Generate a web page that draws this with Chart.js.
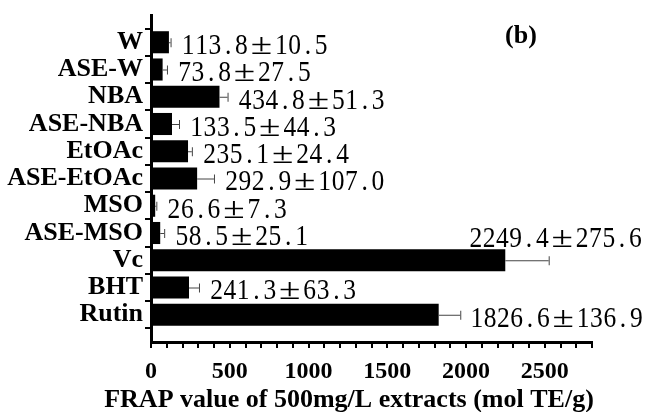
<!DOCTYPE html>
<html>
<head>
<meta charset="utf-8">
<script src="https://cdn.jsdelivr.net/npm/chart.js@4.4.1/dist/chart.umd.min.js"></script>
<style>
  body { margin: 0; background: #fff; }
</style>
</head>
<body>
<canvas id="frap-chart" width="645" height="412"></canvas>
<script>
// FRAP values of the extracts, mean and SD
const categories = ['W', 'ASE-W', 'NBA', 'ASE-NBA', 'EtOAc', 'ASE-EtOAc', 'MSO', 'ASE-MSO', 'Vc', 'BHT', 'Rutin'];
const frapMeans = [113.8, 73.8, 434.8, 133.5, 235.1, 292.9, 26.6, 58.5, 2249.4, 241.3, 1826.6];
const frapSd = [10.5, 27.5, 51.3, 44.3, 24.4, 107.0, 7.3, 25.1, 275.6, 63.3, 136.9];
const xTickLabels = [0, 500, 1000, 1500, 2000, 2500];
const xMax = 2800;
const xTitle = 'FRAP value of 500mg/L extracts (mol TE/g)';

const serif = "'Liberation Serif', 'Times New Roman', serif";

// one empty slot above and below so the axis runs past the bars
const labels = [''].concat(categories, ['']);
const values = [null].concat(frapMeans, [null]);
const errors = [null].concat(frapSd, [null]);

// draws text in fixed cells, like a CJK mono font (± takes two cells)
function drawMono(ctx, text, x, y, cell) {
  ctx.textAlign = 'center';
  for (const ch of text) {
    const wide = ch === '±';
    const w = wide ? cell * 2 : cell;
    ctx.save();
    ctx.translate(x + w / 2, y);
    ctx.scale(wide ? 1.3 : 0.85, 1);
    ctx.fillText(ch, 0, 0);
    ctx.restore();
    x += w;
  }
}
function monoWidth(text, cell) {
  let w = 0;
  for (const ch of text) w += ch === '±' ? cell * 2 : cell;
  return w;
}

const errorBars = {
  id: 'errorBars',
  afterDatasetsDraw(chart) {
    const ctx = chart.ctx;
    const xs = chart.scales.x;
    const meta = chart.getDatasetMeta(0);
    const cell = 13.3;
    ctx.save();
    meta.data.forEach((bar, i) => {
      if (values[i] == null) return;
      const end = xs.getPixelForValue(values[i] + errors[i]);
      const y = bar.y;
      ctx.strokeStyle = '#444';
      ctx.lineWidth = 1;
      ctx.beginPath();
      ctx.moveTo(bar.x, y + 0.5);
      ctx.lineTo(end, y + 0.5);
      ctx.moveTo(end + 0.5, y - 4);
      ctx.lineTo(end + 0.5, y + 5);
      ctx.stroke();

      const text = values[i].toFixed(1) + '±' + errors[i].toFixed(1);
      const w = monoWidth(text, cell);
      ctx.fillStyle = '#000';
      ctx.font = '30px ' + serif;
      ctx.textBaseline = 'middle';
      let tx = Math.min(end + 11, chart.width - 2 - w);
      let ty = y + 4;
      if (end + 4 + w > chart.width) {
        // no room beside the bar: put it above, against the right edge
        tx = chart.width - 3 - w;
        ty = y - 21;
      }
      drawMono(ctx, text, tx, ty, cell);
    });
    ctx.fillStyle = '#000';
    ctx.font = 'bold 26px ' + serif;
    ctx.textAlign = 'center';
    ctx.textBaseline = 'middle';
    ctx.fillText('(b)', 521, 36);
    // axis title, wider than the plot area so drawn here
    ctx.textBaseline = 'alphabetic';
    ctx.fillText(xTitle, 349, 407);
    ctx.restore();
  }
};

const ctx = document.getElementById('frap-chart').getContext('2d');

const config = {
  type: 'bar',
  data: {
    labels: labels,
    datasets: [{
      data: values,
      backgroundColor: '#000',
      borderWidth: 0,
      barPercentage: 0.9,
      categoryPercentage: 0.9,
    }],
  },
  options: {
    indexAxis: 'y',
    responsive: false,
    animation: false,
    layout: { padding: { top: 15, right: 53, bottom: 0, left: 0 } },
    plugins: {
      legend: { display: false },
      tooltip: { enabled: false },
    },
    scales: {
      y: {
        type: 'category',
        offset: false,
        grid: { offset: true, drawOnChartArea: false, color: '#000', lineWidth: 2, tickLength: 6 },
        border: { color: '#000', width: 3 },
        ticks: { color: '#000', padding: 2, autoSkip: false, font: { family: serif, size: 26, weight: 'bold' } },
        afterFit(scale) {
          scale.width = 151;
          scale.paddingTop = 0;
          scale.paddingBottom = 0;
        },
      },
      x: {
        min: 0,
        max: xMax,
        grid: { drawOnChartArea: false, color: '#000', lineWidth: 2, tickLength: 6 },
        border: { color: '#000', width: 3 },
        ticks: {
          stepSize: 100,
          autoSkip: false,
          maxRotation: 0,
          padding: 9,
          color: '#000',
          font: { family: serif, size: 24, weight: 'bold' },
          callback: (v) => (xTickLabels.includes(v) ? String(v) : ''),
        },
        afterFit(scale) {
          scale.height = 70;
        },
      },
    },
  },
  plugins: [errorBars],
};

const frapChart = new Chart(ctx, config);
</script>
</body>
</html>
